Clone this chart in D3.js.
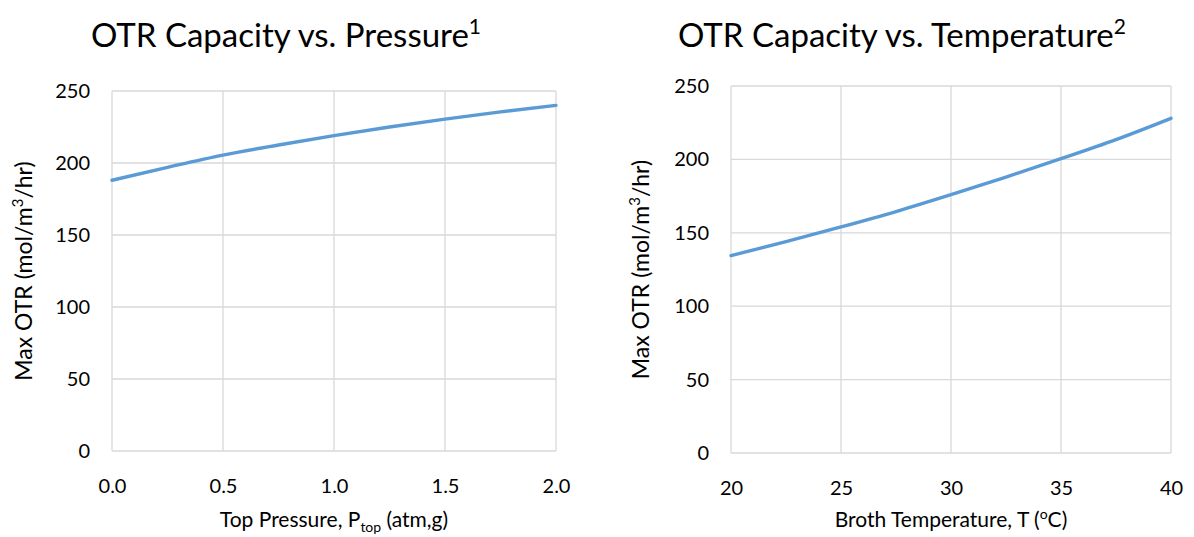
<!DOCTYPE html>
<html>
<head>
<meta charset="utf-8">
<script src="https://cdn.jsdelivr.net/npm/d3@7"></script>
<style>
  body { margin: 0; background: #fff; }
  svg text { font-family: Lato, "Open Sans", sans-serif; fill: #000; }
</style>
</head>
<body>
<div id="chart"></div>
<script>
// values
const pressure = [0, 0.25, 0.5, 0.75, 1.0, 1.25, 1.5, 1.75, 2.0];
const otrPressure = [188, 197, 205.5, 212.5, 219, 225, 230.5, 235.5, 240];
const temperature = [20, 22.5, 25, 27.5, 30, 32.5, 35, 37.5, 40];
const otrTemperature = [134.5, 144, 154, 164.5, 176, 188, 200.5, 213.5, 228];
const pressureTicks = [0, 0.5, 1.0, 1.5, 2.0];
const temperatureTicks = [20, 25, 30, 35, 40];
const otrTicks = [0, 50, 100, 150, 200, 250];

const W = 1194, H = 537;
const svg = d3.select('#chart').append('svg')
    .attr('width', W)
    .attr('height', H);

let drawPanel = ({xs, ys, xTicks, xFmt, box, title, sup, xTitle}) => {
    let x = d3.scaleLinear().domain(d3.extent(xTicks)).range([box.left, box.right]);
    let y = d3.scaleLinear().domain([0, 250]).range([box.bottom, box.top]);
    let g = svg.append('g');

    // grid
    g.append('g').selectAll('line').data(otrTicks).join('line')
        .attr('x1', box.left).attr('x2', box.right)
        .attr('y1', d => y(d)).attr('y2', d => y(d))
        .attr('stroke', '#d9d9d9').attr('stroke-width', 1.3);
    g.append('g').selectAll('line').data(xTicks).join('line')
        .attr('x1', d => x(d)).attr('x2', d => x(d))
        .attr('y1', box.top).attr('y2', box.bottom)
        .attr('stroke', '#d9d9d9').attr('stroke-width', 1.3);

    // axes, labels only
    let xAxis = g.append('g')
        .attr('transform', `translate(0,${box.bottom})`)
        .call(d3.axisBottom(x).tickValues(xTicks).tickFormat(xFmt).tickSize(0).tickPadding(28));
    let yAxis = g.append('g')
        .attr('transform', `translate(${box.left},0)`)
        .call(d3.axisLeft(y).tickValues(otrTicks).tickSize(0).tickPadding(22));
    [xAxis, yAxis].forEach(a => {
        a.select('.domain').remove();
        a.selectAll('text').style('font-size', '20px').attr('fill', '#000');
    });

    // line
    let line = d3.line().x(d => x(d[0])).y(d => y(d[1])).curve(d3.curveMonotoneX);
    g.append('path')
        .datum(xs.map((v, i) => [v, ys[i]]))
        .attr('d', line)
        .attr('fill', 'none')
        .attr('stroke', '#5b9bd5')
        .attr('stroke-width', 3.4)
        .attr('stroke-linecap', 'round');

    // title
    let t = g.append('text')
        .attr('x', box.titleX).attr('y', 47)
        .attr('text-anchor', 'middle')
        .style('font-size', '33px')
        .text(title);
    t.append('tspan').attr('dy', -13).style('font-size', '21px').text(sup);

    // y title
    let yt = g.append('text')
        .attr('transform', `translate(${box.yTitleX},${(box.top + box.bottom) / 2}) rotate(-90)`)
        .attr('text-anchor', 'middle')
        .style('font-size', '23px')
        .text('Max OTR (mol/m');
    yt.append('tspan').attr('dy', -9).style('font-size', '15px').text('3');
    yt.append('tspan').attr('dy', 9).text('/hr)');

    // x title
    let xt = g.append('text')
        .attr('x', (box.left + box.right) / 2).attr('y', 527)
        .attr('text-anchor', 'middle')
        .style('font-size', '21px');
    xTitle(xt);
};

drawPanel({
    xs: pressure, ys: otrPressure, xTicks: pressureTicks, xFmt: d3.format('.1f'),
    box: {left: 112, right: 556, top: 91, bottom: 451, titleX: 286, yTitleX: 32},
    title: 'OTR Capacity vs. Pressure', sup: '1',
    xTitle: t => {
        t.append('tspan').text('Top Pressure, P');
        t.append('tspan').attr('dy', 5).style('font-size', '14px').text('top');
        t.append('tspan').attr('dy', -5).text(' (atm,g)');
    }
});

drawPanel({
    xs: temperature, ys: otrTemperature, xTicks: temperatureTicks, xFmt: d3.format('d'),
    box: {left: 731, right: 1171, top: 86, bottom: 453, titleX: 902, yTitleX: 649},
    title: 'OTR Capacity vs. Temperature', sup: '2',
    xTitle: t => {
        t.append('tspan').text('Broth Temperature, T (');
        t.append('tspan').attr('dy', -8).style('font-size', '14px').text('o');
        t.append('tspan').attr('dy', 8).text('C)');
    }
});
</script>
</body>
</html>
